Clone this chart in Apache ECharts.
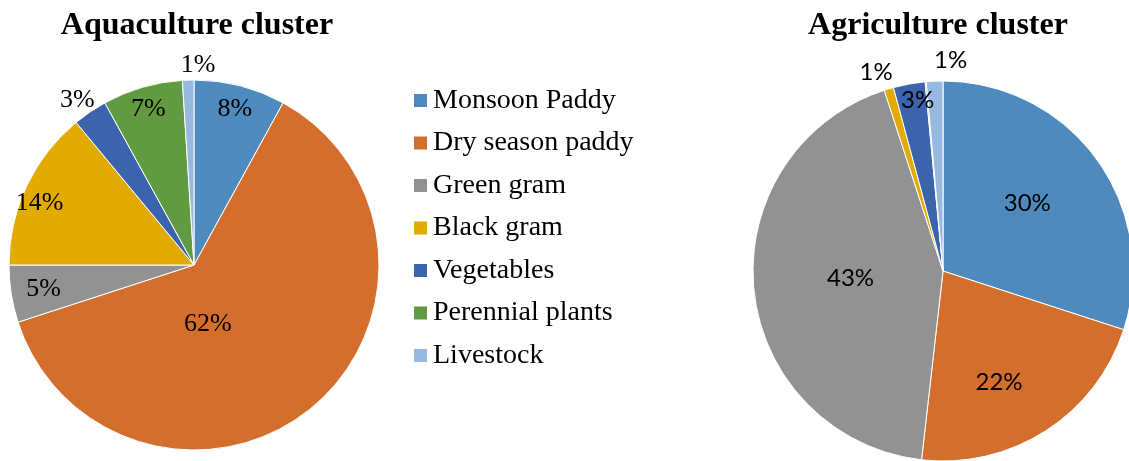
<!DOCTYPE html>
<html>
<head>
<meta charset="utf-8">
<script src="https://cdn.jsdelivr.net/npm/echarts@6/dist/echarts.min.js"></script>
<style>
  html, body { margin: 0; padding: 0; background: #fff; }
  #chart { width: 1129px; height: 461px; }
</style>
</head>
<body>
<div id="chart"></div>
<script>
// 类别
var categories = ['Monsoon Paddy', 'Dry season paddy', 'Green gram', 'Black gram', 'Vegetables', 'Perennial plants', 'Livestock'];
// 数据 (%)
var aquaValues = [8, 62, 5, 14, 3, 7, 1];
var agriValues = [30, 21.8, 43.2, 0.8, 2.7, 0.1, 1.4];
var titles = ['Aquaculture cluster', 'Agriculture cluster'];

var colors = ['#4e8abe', '#d46e2c', '#929292', '#e3aa00', '#3c64ad', '#629a41', '#97b9e0'];

// 标签偏移 (样式微调)
var aquaLabelShift = [[17, -63], [-47, -14], [-56, 9], [-68, -21], [-63, -86], [-19, -64], [7, -104]];
var agriLabelShift = [[5, -10], [3, 29], [5, -3], [-39, -105], [-8, -74], [0, 0], [12, -113]];

var myChart = echarts.init(document.getElementById('chart'));

function toData(values) {
  return values.map(function (v, i) {
    return { name: categories[i], value: v };
  });
}

function pctLabel(p) {
  var r = Math.round(p.percent);
  return r > 0 ? r + '%' : '';
}

var option = {
  animation: false,
  color: colors,
  title: [{
    text: titles[0],
    left: 197,
    top: 10,
    padding: 0,
    textAlign: 'center',
    textStyle: { fontFamily: 'Liberation Serif', fontWeight: 'bold', fontSize: 32, color: '#000' }
  }, {
    text: titles[1],
    left: 938,
    top: 10,
    padding: 0,
    textAlign: 'center',
    textStyle: { fontFamily: 'Liberation Serif', fontWeight: 'bold', fontSize: 32, color: '#000' }
  }],
  legend: {
    orient: 'vertical',
    left: 412,
    top: 86.5,
    padding: 0,
    itemWidth: 15,
    itemHeight: 15,
    itemGap: 14.5,
    icon: 'rect',
    data: categories,
    textStyle: { fontFamily: 'Liberation Serif', fontSize: 28, lineHeight: 28, color: '#000' }
  },
  series: [{
    type: 'pie',
    center: [194, 265],
    radius: 185,
    startAngle: 90,
    clockwise: true,
    avoidLabelOverlap: false,
    itemStyle: { borderColor: '#fff', borderWidth: 1 },
    label: {
      position: 'inside',
      formatter: pctLabel,
      fontFamily: 'Liberation Serif',
      fontSize: 26,
      color: '#000'
    },
    labelLine: { show: false },
    labelLayout: function (p) {
      var s = aquaLabelShift[p.dataIndex];
      return { dx: s[0], dy: s[1] };
    },
    emphasis: { disabled: true },
    data: toData(aquaValues)
  }, {
    type: 'pie',
    center: [943, 271],
    radius: 190,
    startAngle: 90,
    clockwise: true,
    avoidLabelOverlap: false,
    itemStyle: { borderColor: '#fff', borderWidth: 1 },
    label: {
      position: 'inside',
      formatter: pctLabel,
      fontFamily: 'Lato',
      fontSize: 24,
      color: '#000'
    },
    labelLine: { show: false },
    labelLayout: function (p) {
      var s = agriLabelShift[p.dataIndex];
      return { dx: s[0], dy: s[1] };
    },
    emphasis: { disabled: true },
    data: toData(agriValues)
  }]
};

myChart.setOption(option);
</script>
</body>
</html>
